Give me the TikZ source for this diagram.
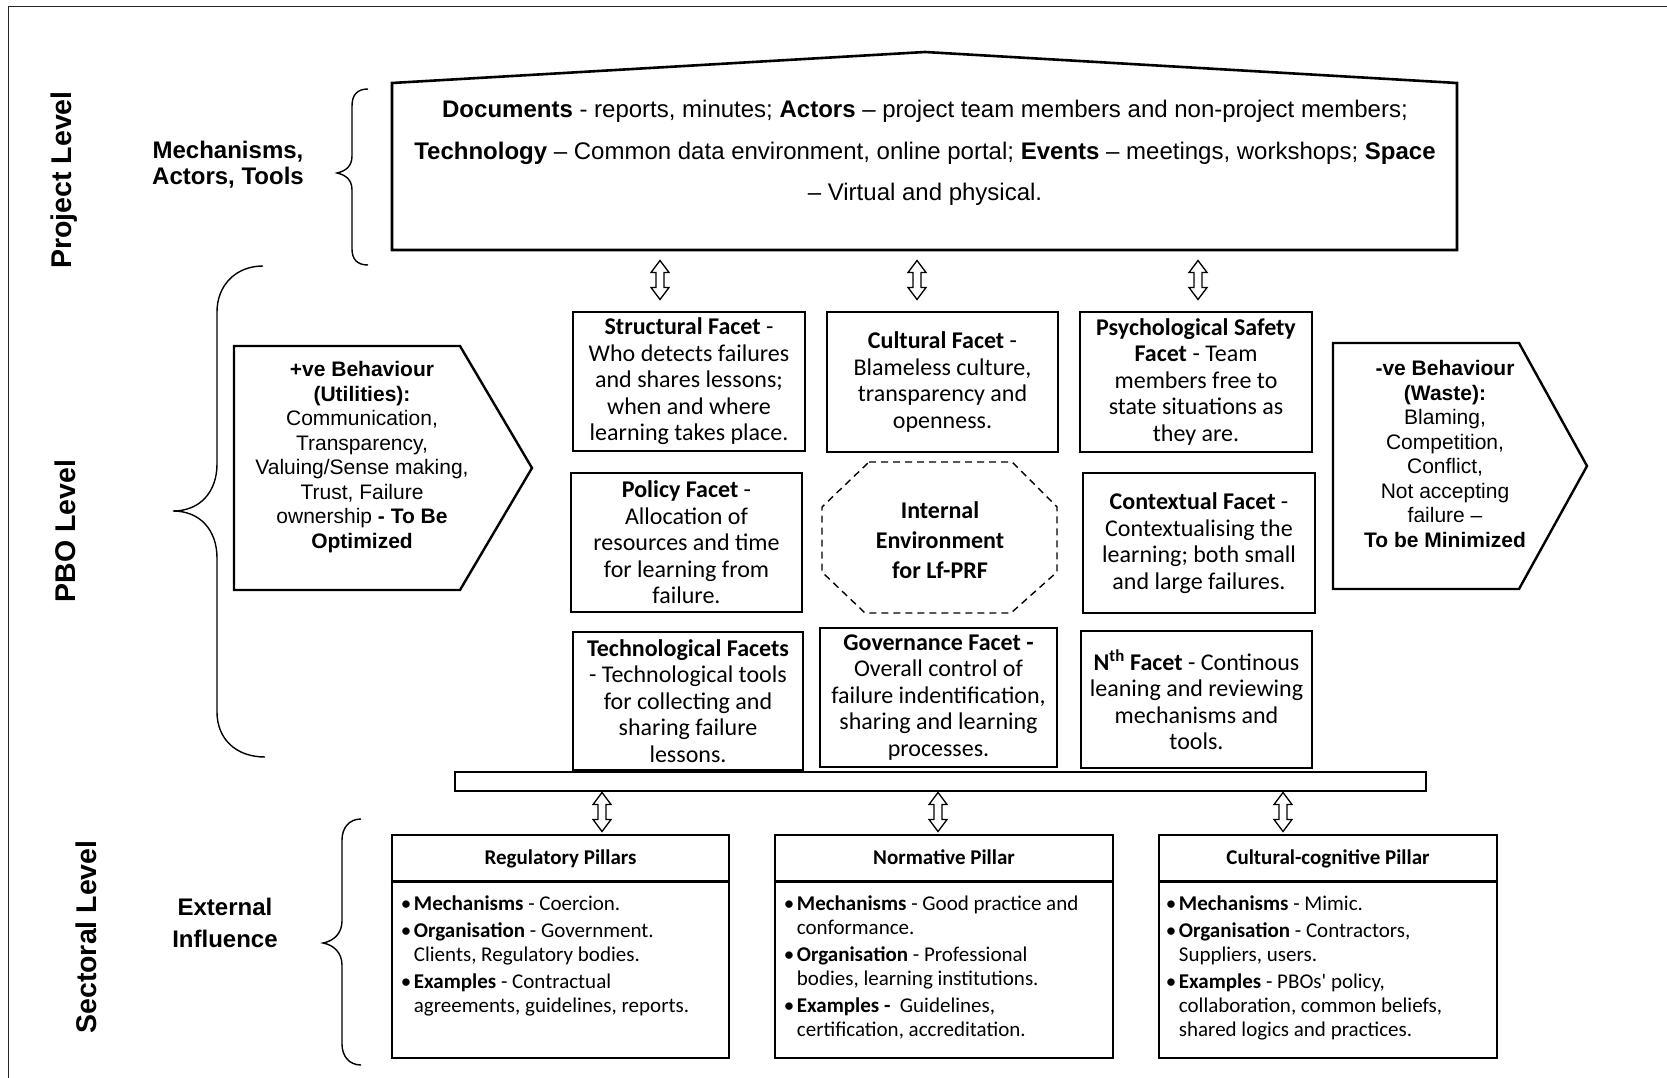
\documentclass[tikz,border=0pt]{standalone}
\usepackage{fontspec}
\setmainfont{Liberation Sans}
\newfontfamily\calibri{Carlito}
\usetikzlibrary{calc}
\begin{document}
\begin{tikzpicture}[x=1pt,y=-1pt,
  frameline/.style={line width=1.5pt, black!85},
  heavy/.style={draw, line width=2.6pt, line join=miter},
  facet/.style={draw, line width=2.6pt, inner sep=0pt, align=center,
    font=\calibri\fontsize{24}{26.5}\selectfont},
  levellabel/.style={rotate=90, inner sep=0pt, font=\bfseries\fontsize{28.5}{30}\selectfont},
  sidelabel/.style={inner sep=0pt, align=center, font=\bfseries\fontsize{24}{26}\selectfont},
  behav/.style={inner sep=0pt, align=center, font=\fontsize{21}{24.5}\selectfont},
  brace/.style={line width=1.4pt},
  pillar/.style={draw, line width=2.6pt, inner sep=0pt, minimum height=223},
  pillarhead/.style={anchor=base, inner sep=0pt, font=\calibri\bfseries\fontsize{21}{24}\selectfont},
  pillarbody/.style={anchor=north west, inner sep=0pt, align=left,
    font=\calibri\fontsize{21}{24}\selectfont},
  updown/.pic={\draw[line width=1.3pt, fill=white, line join=miter]
    (0,-19.5) -- (9,-7.5) -- (4,-7.5) -- (4,7.5) -- (9,7.5) -- (0,19.5)
    -- (-9,7.5) -- (-4,7.5) -- (-4,-7.5) -- (-9,-7.5) -- cycle;}
]
\newcommand\bul{\makebox[11pt][l]{\hspace{-2pt}\textbullet}}
\newcommand\ind{\hspace*{11pt}}

\fill[white] (0,0) rectangle (1667,1078);
\useasboundingbox (0,0) rectangle (1667,1078);

% outer frame (left and top edges)
\draw[frameline] (8.5,1078) -- (8.5,6.5) -- (1667,6.5);

% ---------------- level labels ----------------
\node[levellabel] (lproj) at (64,180) {Project Level};
\node[levellabel] (lpbo)  at (65,531) {PBO Level};
\node[levellabel] (lsec)  at (86,937) {Sectoral Level};

% ---------------- project level ----------------
\node[sidelabel] (mat) at (228,165) {Mechanisms,\\Actors, Tools};
\draw[brace] (368,89) .. controls (357,89) and (352,95) .. (352,106) -- (352,156)
  .. controls (352,166) and (346,171) .. (337,173)
  .. controls (346,175) and (352,180) .. (352,190) -- (352,249)
  .. controls (352,259) and (357,265) .. (368,265);

\draw[heavy] (392,83) -- (925,52) -- (1457,83) -- (1457,250) -- (392,250) -- cycle;
\node[inner sep=0pt, align=center, font=\fontsize{24}{41.5}\selectfont] (house) at (925,153)
  {\textbf{Documents} - reports, minutes; \textbf{Actors} -- project team members and non-project members;\\
   \textbf{Technology} -- Common data environment, online portal; \textbf{Events} -- meetings, workshops; \textbf{Space}\\
   -- Virtual and physical.};

\pic (ua) at (660,280) {updown};
\pic (ub) at (917,280) {updown};
\pic (uc) at (1198,280) {updown};

% ---------------- PBO level ----------------
\draw[brace] (263,266) .. controls (236,266) and (217,285) .. (217,312) -- (217,464)
  .. controls (217,492) and (200,511) .. (173,511)
  .. controls (200,511) and (217,530) .. (217,558) -- (217,712)
  .. controls (217,739) and (236,757) .. (265,757);

% positive behaviour
\draw[line width=2.4pt, line join=miter] (234,346) -- (460,346) -- (532,468) -- (460,590) -- (234,590) -- cycle;
\node[behav] (posb) at (362,457)
  {\textbf{+ve Behaviour}\\ \textbf{(Utilities):}\\ Communication,\\ Transparency,\\
   Valuing/Sense making,\\ Trust, Failure\\ ownership \textbf{- To Be}\\ \textbf{Optimized}};

% negative behaviour
\draw[line width=2.4pt, line join=miter] (1333,343) -- (1519,343) -- (1587,466) -- (1519,589) -- (1333,589) -- cycle;
\node[behav] (negb) at (1445,454)
  {\textbf{-ve Behaviour}\\ \textbf{(Waste):}\\ Blaming,\\ Competition,\\ Conflict,\\
   Not accepting\\ failure --\\ \textbf{To be Minimized}};

% facets
\node[facet, minimum width=232, minimum height=139] (struct) at (689,381.5)
  {\textbf{Structural Facet} -\\ Who detects failures\\ and shares lessons;\\ when and where\\ learning takes place.};
\node[facet, minimum width=231, minimum height=140] (cult) at (942.5,382)
  {\textbf{Cultural Facet} -\\ Blameless culture,\\ transparency and\\ openness.};
\node[facet, minimum width=232, minimum height=140] (psych) at (1196,382)
  {\textbf{Psychological Safety}\\ \textbf{Facet} - Team\\ members free to\\ state situations as\\ they are.};

\node[facet, minimum width=231, minimum height=139] (policy) at (686.5,542.5)
  {\textbf{Policy Facet} -\\ Allocation of\\ resources and time\\ for learning from\\ failure.};
\draw[line width=1.4pt, dash pattern=on 7pt off 5pt]
  (869,462) -- (1012,462) -- (1057,507) -- (1057,572) -- (1011,613) -- (865,613) -- (822,572) -- (822,507) -- cycle;
\node[inner sep=0pt, align=center, font=\calibri\bfseries\fontsize{24}{30}\selectfont] (inenv) at (940,540)
  {Internal\\Environment\\for Lf-PRF};
\node[facet, minimum width=232, minimum height=140] (context) at (1199,543)
  {\textbf{Contextual Facet} -\\ Contextualising the\\ learning; both small\\ and large failures.};

\node[facet, minimum width=230, minimum height=138] (tech) at (688,701)
  {\textbf{Technological Facets}\\ - Technological tools\\ for collecting and\\ sharing failure\\ lessons.};
\node[facet, minimum width=237, minimum height=139] (gov) at (938.5,697.5)
  {\textbf{Governance Facet -}\\ Overall control of\\ failure indentification,\\ sharing and learning\\ processes.};
\node[facet, minimum width=231, minimum height=137] (nth) at (1196.5,699.5)
  {\textbf{N\textsuperscript{th} Facet} - Continous\\ leaning and reviewing\\ mechanisms and\\ tools.};

% base bar
\node[heavy, line width=2.4pt, inner sep=0pt, minimum width=971, minimum height=19] (base) at (940.5,781.5) {};

\pic (da) at (602,812) {updown};
\pic (db) at (938,812) {updown};
\pic (dc) at (1283,812) {updown};

% ---------------- sectoral level ----------------
\node[sidelabel, font=\bfseries\fontsize{24}{32}\selectfont] (ext) at (225,923) {External\\Influence};
\draw[brace] (361,819) .. controls (349,819) and (342,828) .. (342,840) -- (342,921)
  .. controls (342,933) and (334,941) .. (323,943)
  .. controls (334,945) and (342,953) .. (342,965) -- (342,1044)
  .. controls (342,1056) and (349,1065) .. (361,1065);

% pillars
\node[pillar, minimum width=337] (reg) at (560.5,946.5) {};
\node[pillar, minimum width=338] (norm) at (944,946.5) {};
\node[pillar, minimum width=338] (cc) at (1328,946.5) {};
\foreach \p in {reg,norm,cc}
  \draw[line width=2.6pt] ($(\p.north west)+(0,48)$) -- ($(\p.north east)+(0,48)$);

\node[pillarhead] (regh) at ($(reg.north)+(0,31)$) {Regulatory Pillars};
\node[pillarhead] (normh) at ($(norm.north)+(0,31)$) {Normative Pillar};
\node[pillarhead] (cch) at ($(cc.north)+(0,31)$) {Cultural-cognitive Pillar};

\node[pillarbody] (regt) at ($(reg.north west)+(12,62)$)
  {\bul\textbf{Mechanisms} - Coercion.\\[3pt]
   \bul\textbf{Organisation} - Government.\\
   \ind Clients, Regulatory bodies.\\[3pt]
   \bul\textbf{Examples} - Contractual\\
   \ind agreements, guidelines, reports.};
\node[pillarbody] (normt) at ($(norm.north west)+(12,62)$)
  {\bul\textbf{Mechanisms} - Good practice and\\
   \ind conformance.\\[3pt]
   \bul\textbf{Organisation} - Professional\\
   \ind bodies, learning institutions.\\[3pt]
   \bul\textbf{Examples -}\ \ Guidelines,\\
   \ind certification, accreditation.};
\node[pillarbody] (cct) at ($(cc.north west)+(10,62)$)
  {\bul\textbf{Mechanisms} - Mimic.\\[3pt]
   \bul\textbf{Organisation} - Contractors,\\
   \ind Suppliers, users.\\[3pt]
   \bul\textbf{Examples} - PBOs' policy,\\
   \ind collaboration, common beliefs,\\
   \ind shared logics and practices.};
\end{tikzpicture}
\end{document}
